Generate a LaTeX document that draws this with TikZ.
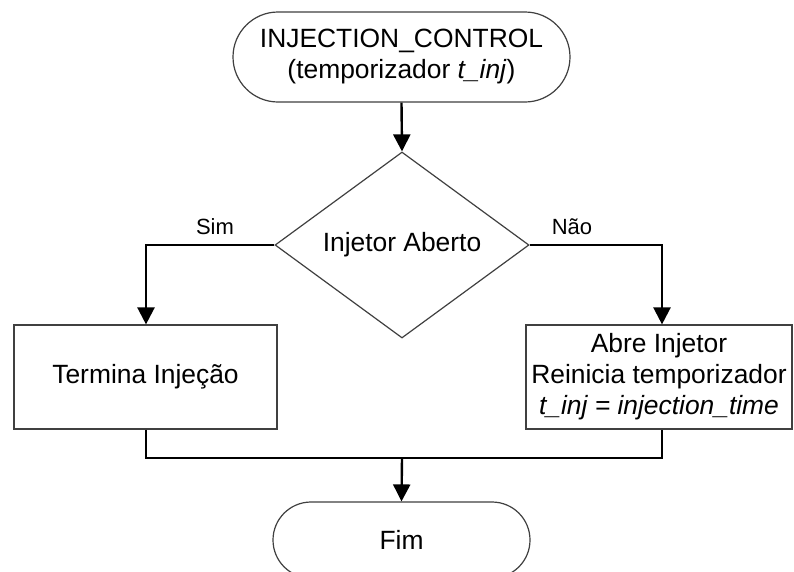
\documentclass[tikz,border=0pt]{standalone}
\usepackage{fontspec}
\setmainfont{Liberation Sans}
\usetikzlibrary{arrows.meta,shapes.geometric}
\definecolor{bordergray}{HTML}{404040}
\begin{document}
\begin{tikzpicture}[x=1pt,y=-1pt,
  every node/.style={font=\fontsize{26.4}{31}\selectfont, align=center, inner sep=0pt},
  shapebox/.style={draw=bordergray, line width=1.2pt, fill=white},
  term/.style={shapebox, rectangle, rounded corners=38pt},
  procbox/.style={shapebox, rectangle},
  decision/.style={shapebox, diamond},
  conn/.style={line width=2.4pt, black},
  arr/.style={conn, -{Triangle[length=17pt,width=17pt]}},
  lbl/.style={font=\fontsize{22}{26}\selectfont}
]
\useasboundingbox (0,0) rectangle (794,571);
\fill[white] (0,0) rectangle (794,571);

\node[term, rounded corners=45pt, minimum width=337pt, minimum height=90pt] (start) at (401.5,57)
  {INJECTION\_CONTROL\\(temporizador \textit{t\_inj})};
\node[decision, minimum width=254pt, minimum height=186pt] (dec) at (402,245) {Injetor Aberto};
\node[procbox, minimum width=263pt, minimum height=104pt] (left) at (145.5,377) {Termina Injeção};
\node[procbox, minimum width=266pt, minimum height=104pt] (right) at (659,377)
  {Abre Injetor\\Reinicia temporizador\\\textit{t\_inj = injection\_time}};
\node[term, minimum width=257pt, minimum height=76pt] (fim) at (401.5,540) {Fim};

\coordinate (jl) at (146,458);
\coordinate (jr) at (662,458);
\coordinate (jm) at (402,458);

\draw[arr] (start.south) -- (dec.north);
\draw[arr] (dec.west) -| (left.north -| jl);
\draw[arr] (dec.east) -| (right.north -| jr);
\draw[conn] (left.south -| jl) -- (jl) -- (jr) -- (right.south -| jr);
\draw[arr] (jm) -- (fim.north);

\node[lbl] (sim) at (215,227) {Sim};
\node[lbl] (nao) at (572,227) {Não};
\end{tikzpicture}
\end{document}
